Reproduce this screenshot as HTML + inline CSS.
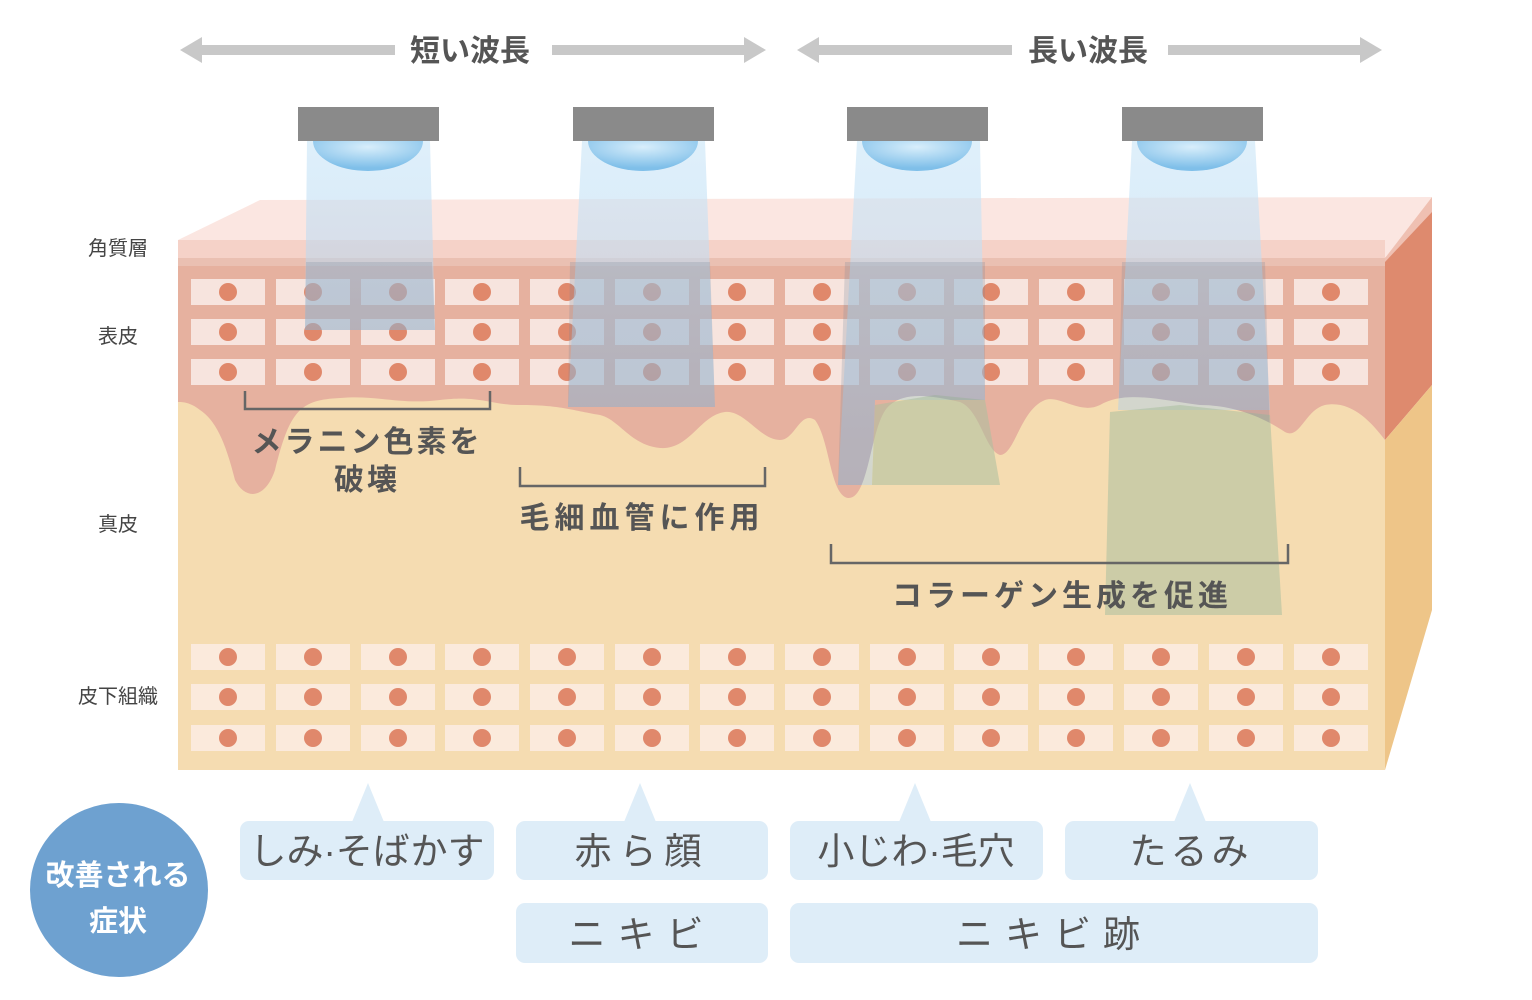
<!DOCTYPE html>
<html><head><meta charset="utf-8"><style>
html,body{margin:0;padding:0;background:#fff;}
svg{display:block;}
text{font-family:"Liberation Sans","Noto Sans CJK JP",sans-serif;}
</style></head><body>
<svg width="1532" height="1000" viewBox="0 0 1532 1000" xmlns="http://www.w3.org/2000/svg">
<defs>
<g id="c"><rect x="-37" y="-13" width="74" height="26" fill="#f7e4de"/><circle r="9" fill="#e0886b"/></g>
<g id="d"><rect x="-37" y="-13" width="74" height="26" fill="#fbeadc"/><circle r="9" fill="#e0886b"/></g>
<linearGradient id="bg" x1="0" y1="0" x2="0" y2="1"><stop offset="0" stop-color="#cfe8f8" stop-opacity="0.9"/><stop offset="1" stop-color="#a9cfee" stop-opacity="0.6"/></linearGradient>
<radialGradient id="lens" cx="0.5" cy="0.2" r="0.7"><stop offset="0" stop-color="#d8eefb"/><stop offset="1" stop-color="#7fbfe9"/></radialGradient>
<path id="epi" d="M178,262 H1385 V440 C1370,420 1350,400 1325,405 C1305,410 1300,440 1285,432 C1260,415 1230,405 1200,405 C1160,400 1125,390 1100,405 C1080,415 1060,395 1045,400 C1020,410 1015,455 1000,455 C985,450 980,410 960,402 C930,395 905,392 890,405 C870,420 870,500 848,498 C830,495 830,440 815,420 C800,410 795,440 780,440 C760,440 745,410 725,412 C700,415 690,450 660,448 C630,445 620,420 600,415 C570,410 560,405 520,405 C490,405 480,395 440,400 C400,405 380,395 340,398 C300,400 290,410 275,470 C265,500 245,500 235,480 C225,440 215,420 200,410 C190,402 182,402 178,402 Z"/>
<clipPath id="epiclip"><use href="#epi"/></clipPath>
</defs>

<!-- arrows -->
<g fill="#c8c8c8">
<rect x="195" y="45" width="200" height="10"/><polygon points="180,50 202,37 202,63"/>
<rect x="552" y="45" width="198" height="10"/><polygon points="766,50 744,37 744,63"/>
<rect x="812" y="45" width="200" height="10"/><polygon points="797,50 819,37 819,63"/>
<rect x="1168" y="45" width="198" height="10"/><polygon points="1382,50 1360,37 1360,63"/>
</g>
<text x="470" y="61" font-size="30" font-weight="bold" fill="#555" text-anchor="middle">短い波長</text>
<text x="1088" y="61" font-size="30" font-weight="bold" fill="#555" text-anchor="middle">長い波長</text>

<!-- top face -->
<polygon points="178,240 260,200 1432,197 1385,258 178,258" fill="#fbe6e1"/>
<!-- side face -->
<polygon points="1385,258 1432,210 1432,385 1385,440" fill="#de8a6e"/>
<polygon points="1385,258 1432,197 1432,212 1385,262" fill="#efc0b2"/>
<polygon points="1385,440 1432,385 1432,610 1385,770" fill="#eec588"/>
<!-- base -->
<rect x="178" y="258" width="1207" height="512" fill="#f5dcb1"/>
<rect x="178" y="240" width="1207" height="24" fill="#f5d2c8"/>
<!-- epidermis -->
<use href="#epi" fill="#e6b19f"/>
<rect x="178" y="258" width="1207" height="8" fill="#eac0b2"/>

<!-- upper cells -->
<g>
<use href="#c" x="228" y="292"/><use href="#c" x="313" y="292"/><use href="#c" x="398" y="292"/><use href="#c" x="482" y="292"/><use href="#c" x="567" y="292"/><use href="#c" x="652" y="292"/><use href="#c" x="737" y="292"/><use href="#c" x="822" y="292"/><use href="#c" x="907" y="292"/><use href="#c" x="991" y="292"/><use href="#c" x="1076" y="292"/><use href="#c" x="1161" y="292"/><use href="#c" x="1246" y="292"/><use href="#c" x="1331" y="292"/>
<use href="#c" x="228" y="332"/><use href="#c" x="313" y="332"/><use href="#c" x="398" y="332"/><use href="#c" x="482" y="332"/><use href="#c" x="567" y="332"/><use href="#c" x="652" y="332"/><use href="#c" x="737" y="332"/><use href="#c" x="822" y="332"/><use href="#c" x="907" y="332"/><use href="#c" x="991" y="332"/><use href="#c" x="1076" y="332"/><use href="#c" x="1161" y="332"/><use href="#c" x="1246" y="332"/><use href="#c" x="1331" y="332"/>
<use href="#c" x="228" y="372"/><use href="#c" x="313" y="372"/><use href="#c" x="398" y="372"/><use href="#c" x="482" y="372"/><use href="#c" x="567" y="372"/><use href="#c" x="652" y="372"/><use href="#c" x="737" y="372"/><use href="#c" x="822" y="372"/><use href="#c" x="907" y="372"/><use href="#c" x="991" y="372"/><use href="#c" x="1076" y="372"/><use href="#c" x="1161" y="372"/><use href="#c" x="1246" y="372"/><use href="#c" x="1331" y="372"/>
</g>
<!-- lower cells -->
<g>
<use href="#d" x="228" y="657"/><use href="#d" x="313" y="657"/><use href="#d" x="398" y="657"/><use href="#d" x="482" y="657"/><use href="#d" x="567" y="657"/><use href="#d" x="652" y="657"/><use href="#d" x="737" y="657"/><use href="#d" x="822" y="657"/><use href="#d" x="907" y="657"/><use href="#d" x="991" y="657"/><use href="#d" x="1076" y="657"/><use href="#d" x="1161" y="657"/><use href="#d" x="1246" y="657"/><use href="#d" x="1331" y="657"/>
<use href="#d" x="228" y="697"/><use href="#d" x="313" y="697"/><use href="#d" x="398" y="697"/><use href="#d" x="482" y="697"/><use href="#d" x="567" y="697"/><use href="#d" x="652" y="697"/><use href="#d" x="737" y="697"/><use href="#d" x="822" y="697"/><use href="#d" x="907" y="697"/><use href="#d" x="991" y="697"/><use href="#d" x="1076" y="697"/><use href="#d" x="1161" y="697"/><use href="#d" x="1246" y="697"/><use href="#d" x="1331" y="697"/>
<use href="#d" x="228" y="738"/><use href="#d" x="313" y="738"/><use href="#d" x="398" y="738"/><use href="#d" x="482" y="738"/><use href="#d" x="567" y="738"/><use href="#d" x="652" y="738"/><use href="#d" x="737" y="738"/><use href="#d" x="822" y="738"/><use href="#d" x="907" y="738"/><use href="#d" x="991" y="738"/><use href="#d" x="1076" y="738"/><use href="#d" x="1161" y="738"/><use href="#d" x="1246" y="738"/><use href="#d" x="1331" y="738"/>
</g>

<!-- beams -->
<g>
<polygon points="307,141 430,141 435,330 305,330" fill="url(#bg)" opacity="0.75"/>
<polygon points="582,141 705,141 715,407 568,407" fill="url(#bg)" opacity="0.75"/>
<polygon points="857,141 980,141 985,400 875,400 872,485 838,485" fill="url(#bg)" opacity="0.75"/>
<polygon points="875,405 935,395 985,400 1000,485 872,485" fill="#a9bf9f" opacity="0.55"/>
<polygon points="1132,141 1255,141 1270,410 1118,410" fill="url(#bg)" opacity="0.75"/>
<polygon points="1110,412 1180,405 1270,415 1282,615 1105,615" fill="#a9bf9f" opacity="0.55"/>
</g>
<g clip-path="url(#epiclip)" fill="#6f7f95" opacity="0.22">
<polygon points="306,262 432,262 435,330 305,330"/>
<polygon points="570,262 710,262 715,407 568,407"/>
<polygon points="845,262 985,262 985,400 875,400 872,485 838,485"/>
<polygon points="1122,262 1265,262 1270,440 1118,440"/>
</g>

<!-- lamps -->
<g>
<path d="M313,141 A55,30 0 0 0 423,141 Z" fill="url(#lens)"/>
<path d="M588,141 A55,30 0 0 0 698,141 Z" fill="url(#lens)"/>
<path d="M862,141 A55,30 0 0 0 972,141 Z" fill="url(#lens)"/>
<path d="M1137,141 A55,30 0 0 0 1247,141 Z" fill="url(#lens)"/>
<rect x="298" y="107" width="141" height="34" fill="#8a8a8a"/>
<rect x="573" y="107" width="141" height="34" fill="#8a8a8a"/>
<rect x="847" y="107" width="141" height="34" fill="#8a8a8a"/>
<rect x="1122" y="107" width="141" height="34" fill="#8a8a8a"/>
</g>

<!-- brackets -->
<g fill="none" stroke="#666" stroke-width="2.5">
<polyline points="245,391 245,409 490,409 490,391"/>
<polyline points="520,467 520,486 765,486 765,467"/>
<polyline points="831,544 831,563 1288,563 1288,544"/>
</g>
<g font-size="30" font-weight="bold" fill="#555" text-anchor="middle">
<text x="367" y="452" letter-spacing="3">メラニン色素を</text>
<text x="367" y="490" letter-spacing="3">破壊</text>
<text x="642" y="528" letter-spacing="5">毛細血管に作用</text>
<text x="1062" y="606" letter-spacing="4">コラーゲン生成を促進</text>
</g>

<!-- left labels -->
<g font-size="20" fill="#444" text-anchor="middle">
<text x="118" y="255">角質層</text>
<text x="118" y="343">表皮</text>
<text x="118" y="531">真皮</text>
<text x="118" y="703">皮下組織</text>
</g>

<!-- bottom -->
<ellipse cx="119" cy="890" rx="89" ry="87" fill="#6ea1d0"/>
<text x="118" y="885" font-size="29" font-weight="bold" fill="#fff" text-anchor="middle">改善される</text>
<text x="118" y="931" font-size="29" font-weight="bold" fill="#fff" text-anchor="middle">症状</text>
<g fill="#deedf8">
<polygon points="368,783 352,822 384,822"/>
<polygon points="640,783 624,822 656,822"/>
<polygon points="915,783 899,822 931,822"/>
<polygon points="1190,783 1174,822 1206,822"/>
<rect x="240" y="821" width="254" height="59" rx="9"/>
<rect x="516" y="821" width="252" height="59" rx="9"/>
<rect x="790" y="821" width="253" height="59" rx="9"/>
<rect x="1065" y="821" width="253" height="59" rx="9"/>
<rect x="516" y="903" width="252" height="60" rx="9"/>
<rect x="790" y="903" width="528" height="60" rx="9"/>
</g>
<g font-size="37" fill="#555" text-anchor="middle">
<text x="367" y="864">しみ·そばかす</text>
<text x="642" y="864" letter-spacing="8">赤ら顔</text>
<text x="916" y="864">小じわ·毛穴</text>
<text x="1191" y="864" letter-spacing="4">たるみ</text>
<text x="642" y="947" letter-spacing="12">ニキビ</text>
<text x="1054" y="947" letter-spacing="12">ニキビ跡</text>
</g>
</svg>
</body></html>
